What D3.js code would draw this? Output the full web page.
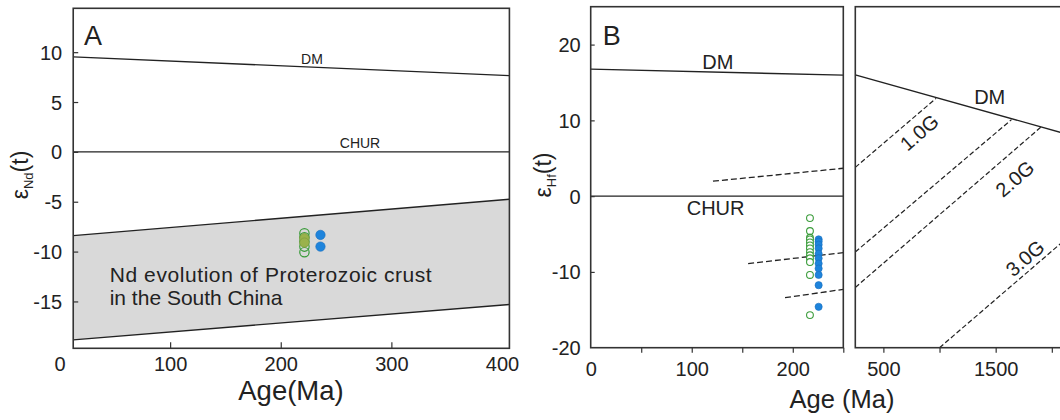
<!DOCTYPE html>
<html>
<head>
<meta charset="utf-8">
<script src="https://cdn.jsdelivr.net/npm/d3@7"></script>
<style>
  body { margin: 0; background: #fff; }
  svg { display: block; font-family: "Liberation Sans", Arial, sans-serif; }
</style>
</head>
<body>
<script>
// ---- data ----
// panel A: eNd(t) vs age
const dmA = [[12.4, 9.53], [406.7, 7.65]];
const churA = [[12.4, 0], [406.7, 0]];
const bandUpper = [[12.4, -8.4], [406.7, -4.75]];
const bandLower = [[12.4, -18.85], [406.7, -15.3]];
const ndGreenAge = 221.4;
const ndGreenOpen = [-8.16, -8.56, -9.0, -9.5, -10.06];
const ndGreenFilled = [-8.66, -9.1];
const ndBlueAge = 235.9;
const ndBlue = [-8.33, -9.5];

// panel B (left part): eHf(t) vs age
const dmB = [[0, 16.76], [250, 15.97]];
const churB = [[0, 0], [250, 0]];
const hfDashLeft = [
  [[121, 1.97], [250, 3.68]],
  [[155.8, -8.9], [250, -7.46]],
  [[192.3, -13.4], [250, -12.3]]
];
const hfGreenAge = 217;
const hfGreen = [-2.9, -4.6, -5.5, -5.7, -6.1, -6.5, -6.9, -7.4, -7.8, -8.2, -8.7, -10.4, -15.7];
const hfBlueAge = 225.6;
const hfBlue = [-5.7, -6.0, -6.4, -6.9, -7.6, -8.2, -8.9, -9.55, -10.4, -11.75, -14.6];

// panel B (right part): crustal evolution lines
const dmC = [[250, 16.0], [2130, 8.2]];
const hfDashRight = [
  [[250, 3.8], [969, 12.9]],
  [[250, -7.37], [1641, 10.1]],
  [[250, -12.05], [1910, 9.2]],
  [[1000, -20], [2130, -5.6]]
];
const evoLabels = [
  {text: "1.0G", age: 820, e: 8.4},
  {text: "2.0G", age: 1671, e: 2.3},
  {text: "3.0G", age: 1761, e: -8.2}
];

const ticksA_y = [-15, -10, -5, 0, 5, 10];
const ticksA_x = [0, 100, 200, 300, 400];
const ticksB_y = [-20, -10, 0, 10, 20];
const ticksB_x = [50, 100, 150, 200, 250];
const labelsB_x = [0, 100, 200];
const ticksC_x = [500, 1000, 1500, 2000];
const labelsC_x = [500, 1500];

// ---- layout ----
const W = 1060, H = 420;
const ink = "#222";
const greenStroke = "#3b9c3b", oliveFill = "#9ab24c", blueFill = "#1e84dc";
const plain = d => String(d);   // hyphen minus like the original

const svg = d3.select("body").append("svg")
  .attr("xmlns", "http://www.w3.org/2000/svg")
  .attr("width", W).attr("height", H);
svg.append("rect").attr("width", W).attr("height", H).attr("fill", "#fff");

// scales
const xA = d3.scaleLinear().domain([0, 400]).range([59.5, 502]);
const yA = d3.scaleLinear().domain([-19.7, 14.4]).range([348.3, 8.3]);
const xB = d3.scaleLinear().domain([0, 250]).range([590.7, 843.3]);
const yB = d3.scaleLinear().domain([-20, 25]).range([347.7, 6.7]);
const xC = d3.scaleLinear().domain([250, 2200]).range([855.3, 855.3 + 1950 * 0.1123]);
const yC = yB;

const lineA = d3.line().x(d => xA(d[0])).y(d => yA(d[1]));
const lineB = d3.line().x(d => xB(d[0])).y(d => yB(d[1]));
const lineC = d3.line().x(d => xC(d[0])).y(d => yC(d[1]));

function styleAxis(ax) {
  ax.select(".domain").remove();
  ax.selectAll("line").attr("stroke", "#333").attr("stroke-width", 1.2);
  ax.selectAll("text").attr("font-size", 20).attr("fill", ink)
    .attr("font-family", "Liberation Sans, Arial, sans-serif");
}

// ================= panel A =================
const gA = svg.append("g");
const aL = xA(dmA[0][0]), aR = xA(dmA[1][0]);

// grey band
const bandPts = bandUpper.concat(bandLower.slice().reverse());
gA.append("path")
  .attr("d", lineA(bandPts) + "Z")
  .attr("fill", "#d9d9d9");
[bandUpper, bandLower, dmA, churA].forEach(l => {
  gA.append("path").attr("d", lineA(l))
    .attr("fill", "none").attr("stroke", ink).attr("stroke-width", 1.4);
});

// frame
gA.append("rect")
  .attr("x", aL).attr("y", yA(14.4))
  .attr("width", aR - aL).attr("height", yA(-19.7) - yA(14.4))
  .attr("fill", "none").attr("stroke", "#333").attr("stroke-width", 1.6);

// axes
const axAy = gA.append("g").attr("transform", `translate(${aL},0)`)
  .call(d3.axisLeft(yA).tickValues(ticksA_y).tickSize(-5).tickPadding(11).tickFormat(plain));
const axAx = gA.append("g").attr("transform", `translate(0,${yA(-19.7)})`)
  .call(d3.axisBottom(xA).tickValues(ticksA_x).tickSize(-6).tickPadding(9).tickFormat(plain));
axAx.selectAll(".tick").filter(d => d === 0 || d === 400).select("line").remove();
styleAxis(axAy);
styleAxis(axAx);
axAy.selectAll("text").attr("dy", "0.35em");

// labels
gA.append("text").attr("x", 84).attr("y", 45).attr("font-size", 27).attr("fill", ink).text("A");
gA.append("text").attr("x", 312).attr("y", 64).attr("font-size", 14).attr("text-anchor", "middle").attr("fill", ink).text("DM");
gA.append("text").attr("x", 360).attr("y", 148.3).attr("font-size", 14).attr("text-anchor", "middle").attr("fill", ink).text("CHUR");
gA.append("text").attr("x", 109.7).attr("y", 281.5).attr("font-size", 21).attr("fill", ink)
  .attr("textLength", 322).text("Nd evolution of Proterozoic crust");
gA.append("text").attr("x", 109.7).attr("y", 305).attr("font-size", 21).attr("fill", ink)
  .text("in the South China");
gA.append("text").attr("x", 291).attr("y", 400).attr("font-size", 27.5).attr("text-anchor", "middle").attr("fill", ink)
  .text("Age(Ma)");

function epsTitle(g, x, y, sub) {
  const t = g.append("text").attr("transform", `translate(${x},${y}) rotate(-90)`)
    .attr("text-anchor", "middle").attr("font-size", 23).attr("fill", ink);
  t.append("tspan").text("ε");
  t.append("tspan").attr("font-size", 13).attr("dy", 5).text(sub);
  t.append("tspan").attr("dy", -5).text("(t)");
}
epsTitle(gA, 28, 175, "Nd");

// points A
gA.append("g").selectAll("circle").data(ndGreenOpen).join("circle")
  .attr("cx", xA(ndGreenAge)).attr("cy", d => yA(d)).attr("r", 4.7)
  .attr("fill", "none").attr("stroke", greenStroke).attr("stroke-width", 1.2);
gA.append("g").selectAll("circle").data(ndGreenFilled).join("circle")
  .attr("cx", xA(ndGreenAge)).attr("cy", d => yA(d)).attr("r", 4.7)
  .attr("fill", oliveFill).attr("stroke", "#7f9e3e").attr("stroke-width", 0.8);
gA.append("g").selectAll("circle").data(ndBlue).join("circle")
  .attr("cx", xA(ndBlueAge)).attr("cy", d => yA(d)).attr("r", 4.7)
  .attr("fill", blueFill).attr("stroke", "#1a6fbd").attr("stroke-width", 0.6);

// ================= panel B, left =================
const gB = svg.append("g");
[dmB, churB].forEach(l => {
  gB.append("path").attr("d", lineB(l))
    .attr("fill", "none").attr("stroke", ink).attr("stroke-width", 1.4);
});
hfDashLeft.forEach(l => {
  gB.append("path").attr("d", lineB(l))
    .attr("fill", "none").attr("stroke", ink).attr("stroke-width", 1.3)
    .attr("stroke-dasharray", "6,3");
});
gB.append("rect")
  .attr("x", xB(0)).attr("y", yB(25))
  .attr("width", xB(250) - xB(0)).attr("height", yB(-20) - yB(25))
  .attr("fill", "none").attr("stroke", "#333").attr("stroke-width", 1.6);

const axBy = gB.append("g").attr("transform", `translate(${xB(0)},0)`)
  .call(d3.axisLeft(yB).tickValues(ticksB_y).tickSize(-4).tickPadding(10).tickFormat(plain));
axBy.selectAll(".tick").filter(d => d === -20).select("line").remove();
const axBx = gB.append("g").attr("transform", `translate(0,${yB(-20)})`)
  .call(d3.axisBottom(xB).tickValues(ticksB_x.concat([0])).tickSize(5).tickPadding(9)
    .tickFormat(d => labelsB_x.includes(d) ? String(d) : ""));
axBx.selectAll(".tick").filter(d => d === 0).select("line").remove();
const axCx = gB.append("g").attr("transform", `translate(0,${yB(-20)})`)
  .call(d3.axisBottom(xC).tickValues(ticksC_x).tickSize(5).tickPadding(9)
    .tickFormat(d => labelsC_x.includes(d) ? String(d) : ""));
[axBy, axBx, axCx].forEach(styleAxis);
axBy.selectAll("text").attr("dy", "0.35em");

gB.append("text").attr("x", 602.7).attr("y", 45).attr("font-size", 27).attr("fill", ink).text("B");
gB.append("text").attr("x", 717.9).attr("y", 69).attr("font-size", 20).attr("text-anchor", "middle").attr("fill", ink).text("DM");
gB.append("text").attr("x", 715.6).attr("y", 215).attr("font-size", 20).attr("text-anchor", "middle").attr("fill", ink).text("CHUR");
epsTitle(gB, 551, 175, "Hf");
gB.append("text").attr("x", 842).attr("y", 408).attr("font-size", 25.5).attr("text-anchor", "middle").attr("fill", ink)
  .text("Age (Ma)");

// points B
gB.append("g").selectAll("circle").data(hfGreen).join("circle")
  .attr("cx", xB(hfGreenAge)).attr("cy", d => yB(d)).attr("r", 3.4)
  .attr("fill", "#fff").attr("stroke", greenStroke).attr("stroke-width", 1.1);
gB.append("g").selectAll("circle").data(hfBlue).join("circle")
  .attr("cx", xB(hfBlueAge)).attr("cy", d => yB(d)).attr("r", 3.6)
  .attr("fill", blueFill).attr("stroke", "#1a6fbd").attr("stroke-width", 0.6);

// ================= panel B, right =================
const gC = svg.append("g");
gC.append("path").attr("d", lineC(dmC))
  .attr("fill", "none").attr("stroke", ink).attr("stroke-width", 1.4);
hfDashRight.forEach(l => {
  gC.append("path").attr("d", lineC(l))
    .attr("fill", "none").attr("stroke", ink).attr("stroke-width", 1.2)
    .attr("stroke-dasharray", "5,2.5");
});
gC.append("rect")
  .attr("x", xC(250)).attr("y", yC(25))
  .attr("width", xC(2200) - xC(250)).attr("height", yC(-20) - yC(25))
  .attr("fill", "none").attr("stroke", "#333").attr("stroke-width", 1.6);

// slope angle of evolution lines in screen space
const l2 = hfDashRight[2];
const ang = Math.atan2(yC(l2[1][1]) - yC(l2[0][1]), xC(l2[1][0]) - xC(l2[0][0])) * 180 / Math.PI;
gC.append("g").selectAll("text").data(evoLabels).join("text")
  .attr("transform", d => `translate(${xC(d.age)},${yC(d.e)}) rotate(${ang})`)
  .attr("text-anchor", "middle").attr("dy", "0.35em")
  .attr("font-size", 20).attr("fill", ink)
  .text(d => d.text);
gC.append("text").attr("x", xC(1447)).attr("y", yC(12.2)).attr("font-size", 20)
  .attr("text-anchor", "middle").attr("fill", ink).text("DM");
</script>
</body>
</html>
